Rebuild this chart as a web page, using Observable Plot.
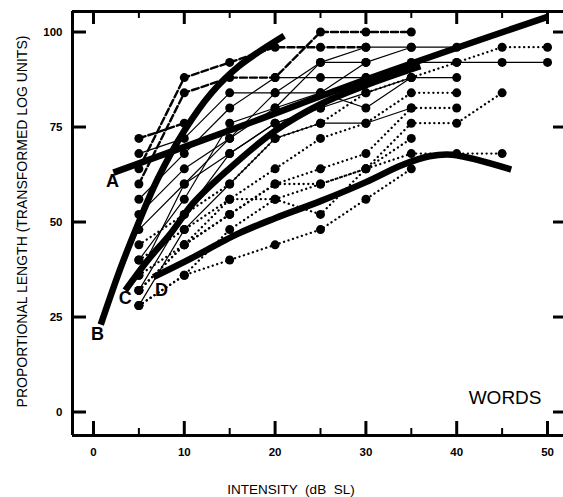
<!DOCTYPE html>
<html>
<head>
<meta charset="utf-8">
<script src="https://cdn.jsdelivr.net/npm/d3@7"></script>
<script src="https://cdn.jsdelivr.net/npm/@observablehq/plot@0.6"></script>
<style>
  html, body { margin: 0; padding: 0; background: #fff; }
  #chart { width: 563px; height: 497px; }
</style>
</head>
<body>
<div id="chart"></div>
<script>
// Intensities (dB SL) at which each subject was measured
const intensity = [5, 10, 15, 20, 25, 30, 35, 40, 45, 50];

// Individual subjects (values at 5, 10, 15 ... dB SL), grouped by line style
const dashedSubjects = [
  [64, 88, 92, 96, 96, 96],
  [60, 84, 88, 88, 100, 100, 100],
  [72, 76]
];
const solidSubjects = [
  [68, 72, 84, 84, 92, 92, 96, 96],
  [56, 68, 80, 88, 88, 88, 92, 92, 92, 92],
  [52, 64, 72, 84, 84, 80, 88, 88],
  [48, 60, 68, 76, 80, 84, 88],
  [40, 56, 76, 80, 92, 96, 96],
  [36, 60, 72, 80, 84, 92],
  [32, 52, 68, 76, 80, 88],
  [28, 48, 60, 72, 76, 76, 80]
];
const dottedSubjects = [
  [44, 52, 60, 72, 76, 84, 88, 92, 96, 96],
  [40, 48, 56, 64, 72, 76, 84, 84],
  [36, 44, 52, 60, 64, 68, 80, 80],
  [32, 44, 56, 56, 60, 64, 76, 76, 84],
  [28, 36, 48, 56, 52, 64, 72],
  [28, 36, 40, 44, 48, 56, 64],
  [32, 44, 52, 60, 60, 64, 68, 68, 68]
];

// Group functions A-D (thick curves)
const curveAx = [2.2, 16, 30, 50];
const curveAy = [63, 75, 87.5, 104];
const curveBx = [0.8, 3, 5, 7, 10, 13, 16, 21];
const curveBy = [23, 38, 50, 61, 74, 84, 91, 99];
const curveCx = [3.5, 6, 8.5, 11, 14.7, 20, 25, 30, 36];
const curveCy = [32, 40, 47, 55, 63.5, 74, 81, 86, 91];
const curveDx = [6.6, 10, 16, 20, 25, 30, 34, 37, 39.5, 46];
const curveDy = [35.5, 39.5, 47, 51, 55.5, 60.5, 65, 67.3, 67.7, 63.8];

const curveNames = ["A", "B", "C", "D"];
const labelX = [2.1, 0.45, 3.5, 7.5];
const labelY = [60.7, 20.4, 29.9, 32];

// Axis ticks
const xMajor = [0, 10, 20, 30, 40, 50];
const xMinor = [5, 15, 25, 35, 45];
const yTicks = [0, 25, 50, 75, 100];

const xDomain = [-2.31, 51.76];
const yDomain = [-6.18, 105.4];

// ---- build tables ----
function rows(group, style) {
  return group.flatMap((vals, i) => vals.map((v, j) => ({x: intensity[j], y: v, id: style + i})));
}
const dashedRows = rows(dashedSubjects, "dashed");
const solidRows = rows(solidSubjects, "solid");
const dottedRows = rows(dottedSubjects, "dotted");
const allDots = [...dashedRows, ...solidRows, ...dottedRows];

const curveXs = [curveAx, curveBx, curveCx, curveDx];
const curveYs = [curveAy, curveBy, curveCy, curveDy];
const curveRows = curveNames.flatMap((n, k) => curveXs[k].map((x, j) => ({x, y: curveYs[k][j], id: n})));
const labels = curveNames.map((n, k) => ({text: n, x: labelX[k], y: labelY[k]}));

const W = 563, H = 497;
const mL = 72, mR = 0, mT = 11, mB = 62;
const plotW = W - mL - mR, plotH = H - mT - mB;

const chart = Plot.plot({
  width: W, height: H,
  marginLeft: mL, marginRight: mR, marginTop: mT, marginBottom: mB,
  x: {domain: xDomain, axis: null},
  y: {domain: yDomain, axis: null},
  style: {fontFamily: "'Liberation Sans', Arial, Helvetica, sans-serif", background: "#fff", color: "#000"},
  marks: [
    // frame lines
    Plot.ruleX([xDomain[0]], {stroke: "black", strokeWidth: 3}),
    Plot.ruleY([yDomain[0]], {stroke: "black", strokeWidth: 3}),
    Plot.ruleY([yDomain[1]], {stroke: "black", strokeWidth: 3}),
    // inward ticks
    Plot.tickX(xMajor, {x: d => d, insetTop: plotH - 14, stroke: "black", strokeWidth: 3}),
    Plot.tickX(xMinor, {x: d => d, insetTop: plotH - 7, stroke: "black", strokeWidth: 2}),
    Plot.tickX(xMajor, {x: d => d, insetBottom: plotH - 13, stroke: "black", strokeWidth: 3}),
    Plot.tickX(xMinor, {x: d => d, insetBottom: plotH - 7, stroke: "black", strokeWidth: 2}),
    Plot.tickY(yTicks, {y: d => d, insetRight: plotW - 14, stroke: "black", strokeWidth: 3}),
    Plot.tickY(yTicks, {y: d => d, insetLeft: plotW - 10, stroke: "black", strokeWidth: 3}),
    // tick labels
    Plot.text(xMajor, {x: d => d, frameAnchor: "bottom", dy: 17, lineAnchor: "middle", fontSize: 11.5, fontWeight: "bold", fill: "black"}),
    Plot.text(yTicks, {y: d => d, frameAnchor: "left", dx: -10, textAnchor: "end", fontSize: 11.5, fontWeight: "bold", fill: "black"}),
    // axis titles
    Plot.text(["INTENSITY  (dB  SL)"], {frameAnchor: "bottom", dx: -27, dy: 54, lineAnchor: "middle", fontSize: 13.5, fill: "black"}),
    Plot.text(["PROPORTIONAL LENGTH (TRANSFORMED LOG UNITS)"], {frameAnchor: "left", dx: -50, dy: -2, rotate: -90, textAnchor: "middle", lineAnchor: "middle", fontSize: 14, fill: "black"}),
    Plot.text(["WORDS"], {frameAnchor: "bottom-right", dx: -22, dy: -38, textAnchor: "end", lineAnchor: "middle", fontSize: 19, fill: "black"}),
    // subjects
    Plot.line(solidRows, {x: "x", y: "y", z: "id", stroke: "black", strokeWidth: 1.2}),
    Plot.line(dashedRows, {x: "x", y: "y", z: "id", stroke: "black", strokeWidth: 2.4, strokeDasharray: "7,3"}),
    Plot.line(dottedRows, {x: "x", y: "y", z: "id", stroke: "black", strokeWidth: 2.3, strokeDasharray: "0.1,4.6", strokeLinecap: "round"}),
    // group curves
    Plot.line(curveRows, {x: "x", y: "y", z: "id", curve: "catmull-rom", stroke: "black", strokeWidth: 6.5, strokeLinecap: "butt"}),
    Plot.dot(allDots, {x: "x", y: "y", r: 4.5, fill: "black", stroke: null}),
    Plot.text(labels, {x: "x", y: "y", text: "text", fontSize: 18, fontWeight: "bold", fill: "black"})
  ]
});
document.getElementById("chart").appendChild(chart);
</script>
</body>
</html>
